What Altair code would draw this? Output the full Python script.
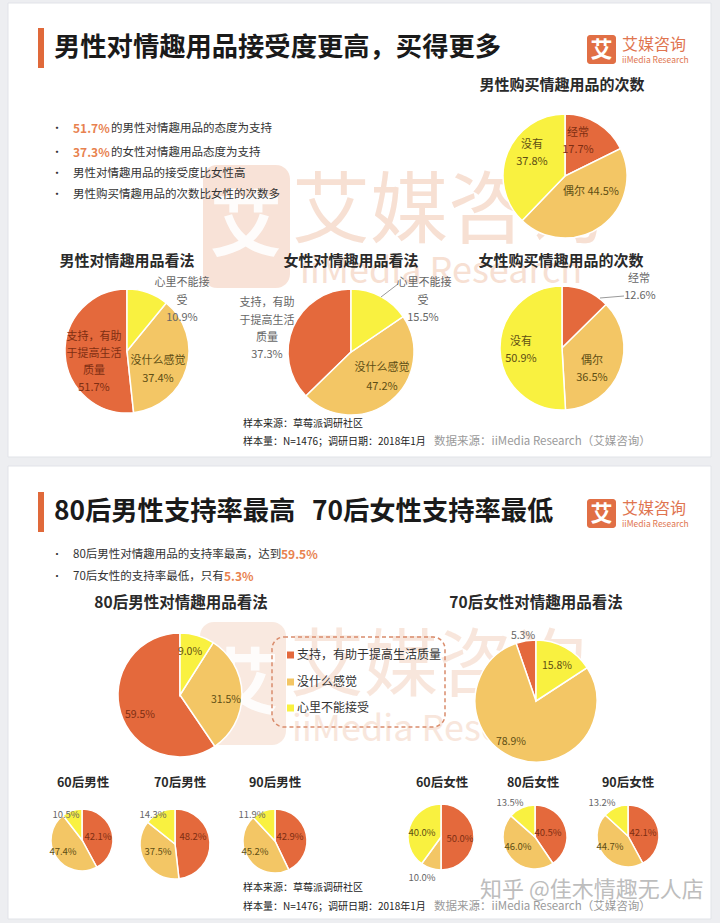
import altair as alt
import pandas as pd

FONT = "Noto Sans CJK SC"

# ---------------- data ----------------
ATT = ["支持，有助于提高生活质量", "没什么感觉", "心里不能接受"]
BUY = ["经常", "偶尔", "没有"]

male_attitude = [51.7, 37.4, 10.9]
female_attitude = [37.3, 47.2, 15.5]
male_buy = [17.7, 44.5, 37.8]
female_buy = [12.6, 36.5, 50.9]

male_80 = [59.5, 31.5, 9.0]
female_70 = [5.3, 78.9, 15.8]
male_60 = [42.1, 47.4, 10.5]
male_70 = [48.2, 37.5, 14.3]
male_90 = [42.9, 45.2, 11.9]
female_60 = [50.0, 10.0, 40.0]
female_80 = [40.5, 46.0, 13.5]
female_90 = [42.1, 44.7, 13.2]

ORANGE, GOLD, YELLOW = "#E4693C", "#F3C665", "#F9F140"
color_scale = alt.Scale(domain=ATT + BUY,
                        range=[ORANGE, GOLD, YELLOW, ORANGE, GOLD, YELLOW])

dummy = pd.DataFrame({"a": [0]})


def pct(v):
    return f"{v:.1f}%"


def T(s, x, y, size=11, color="#333333", bold=False, align="center",
      opacity=1.0, font=FONT):
    return alt.Chart(dummy).mark_text(
        text=s, fontSize=size, font=font,
        fontWeight="bold" if bold else "normal",
        color=color, align=align, baseline="middle", opacity=opacity
    ).encode(x=alt.value(x), y=alt.value(y))


def R(x1, x2, y1, y2, **kw):
    return alt.Chart(dummy).mark_rect(**kw).encode(
        x=alt.value(x1), x2=alt.value(x2), y=alt.value(y1), y2=alt.value(y2))


def L(x1, y1, x2, y2, color="#999999", w=1):
    return alt.Chart(dummy).mark_rule(color=color, strokeWidth=w).encode(
        x=alt.value(x1), y=alt.value(y1), x2=alt.value(x2), y2=alt.value(y2))


def pie(values, cats, cx, cy, r, reverse=False):
    df = pd.DataFrame({"cat": cats, "v": values, "i": list(range(len(values)))})
    return alt.Chart(df).mark_arc(radius=r, stroke="white", strokeWidth=1.5).encode(
        theta=alt.Theta("v:Q", stack="normalize"),
        color=alt.Color("cat:N", scale=color_scale, legend=None),
        order=alt.Order("i:Q", sort="descending" if reverse else "ascending"),
        x=alt.value(cx), y=alt.value(cy),
    )


layers = []

# ---------------- cards ----------------
layers += [
    R(8, 711, 3, 457, fill="white", stroke="#E1E3E8", strokeWidth=1),
    R(8, 711, 466, 919, fill="white", stroke="#E1E3E8", strokeWidth=1),
]

# ---------------- faint watermarks ----------------
WM = "#F4D3C1"
layers += [
    R(203, 290, 165, 288, fill=WM, cornerRadius=14, opacity=0.65),
    T("艾", 246, 228, size=72, color="white", bold=True, opacity=0.9),
    T("艾媒咨询", 292, 214, size=78, color=WM, align="left", opacity=0.7),
    T("iiMedia Research", 300, 272, size=36, color=WM, align="left", opacity=0.7),
    R(200, 286, 622, 745, fill=WM, cornerRadius=14, opacity=0.5),
    T("艾", 243, 686, size=72, color="white", bold=True, opacity=0.9),
    T("艾媒咨询", 290, 668, size=74, color=WM, align="left", opacity=0.55),
    T("iiMedia Research", 292, 730, size=36, color=WM, align="left", opacity=0.55),
]

# ---------------- headers ----------------
TITLE_C = "#1A1A1A"
layers += [
    R(38, 44, 28, 68, fill="#E0693A"),
    T("男性对情趣用品接受度更高，买得更多", 54, 48, size=26.3, color=TITLE_C, bold=True, align="left"),
    R(38, 44, 492, 532, fill="#E0693A"),
    T("80后男性支持率最高", 54, 512, size=26.3, color=TITLE_C, bold=True, align="left"),
    T("70后女性支持率最低", 312, 512, size=26.3, color=TITLE_C, bold=True, align="left"),
]
for ly in (49, 513):
    layers += [
        R(587, 616, ly - 14, ly + 15, fill="#E16F45", cornerRadius=3),
        T("艾", 601.5, ly + 1, size=22, color="white", bold=True),
        T("艾媒咨询", 622, ly - 4, size=16, color="#E07550", align="left"),
        T("iiMedia Research", 622, ly + 11, size=8.5, color="#E07550", align="left"),
    ]

# ---------------- bullets (top) ----------------
HL = "#E8824F"
BODY = "#333333"
layers += [
    T("•", 57, 129, size=11, color=BODY),
    T(pct(male_attitude[0]), 73, 129, size=12, color=HL, bold=True, align="left"),
    T("的男性对情趣用品的态度为支持", 111, 129, size=11.5, color=BODY, align="left"),
    T("•", 57, 153, size=11, color=BODY),
    T(pct(female_attitude[0]), 73, 153, size=12, color=HL, bold=True, align="left"),
    T("的女性对情趣用品态度为支持", 111, 153, size=11.5, color=BODY, align="left"),
    T("•", 57, 174, size=11, color=BODY),
    T("男性对情趣用品的接受度比女性高", 73, 174, size=11.5, color=BODY, align="left"),
    T("•", 57, 195, size=11, color=BODY),
    T("男性购买情趣用品的次数比女性的次数多", 73, 195, size=11.5, color=BODY, align="left"),
]

# ---------------- bullets (bottom) ----------------
layers += [
    T("•", 57, 555, size=10, color=BODY),
    T("80后男性对情趣用品的支持率最高，达到", 73, 555, size=11.5, color=BODY, align="left"),
    T(pct(male_80[0]), 281, 555, size=12, color=HL, bold=True, align="left"),
    T("•", 57, 577, size=10, color=BODY),
    T("70后女性的支持率最低，只有", 73, 577, size=11.5, color=BODY, align="left"),
    T(pct(female_70[0]), 224, 577, size=12, color=HL, bold=True, align="left"),
]

# ---------------- chart titles ----------------
ST = "#2A2A2A"
layers += [
    T("男性购买情趣用品的次数", 562, 85, size=15, color=ST, bold=True),
    T("男性对情趣用品看法", 127, 261, size=15, color=ST, bold=True),
    T("女性对情趣用品看法", 351, 261, size=15, color=ST, bold=True),
    T("女性购买情趣用品的次数", 561, 261, size=15, color=ST, bold=True),
    T("80后男性对情趣用品看法", 181, 603, size=15.5, color=ST, bold=True),
    T("70后女性对情趣用品看法", 536, 603, size=15.5, color=ST, bold=True),
    T("60后男性", 83, 783, size=12.5, color=ST, bold=True),
    T("70后男性", 180, 783, size=12.5, color=ST, bold=True),
    T("90后男性", 275, 783, size=12.5, color=ST, bold=True),
    T("60后女性", 442, 783, size=12.5, color=ST, bold=True),
    T("80后女性", 533, 783, size=12.5, color=ST, bold=True),
    T("90后女性", 628, 783, size=12.5, color=ST, bold=True),
]

# ---------------- pies ----------------
layers += [
    pie(male_buy, BUY, 565, 176, 62),
    pie(male_attitude, ATT, 127, 351, 62, reverse=True),
    pie(female_attitude, ATT, 351, 352, 63, reverse=True),
    pie(female_buy, BUY, 562, 348, 62),
    pie(male_80, ATT, 180, 695, 62, reverse=True),
    pie(female_70, ATT, 536, 701, 61, reverse=True),
    pie(male_60, ATT, 82, 840, 31),
    pie(male_70, ATT, 175, 844, 35),
    pie(male_90, ATT, 275, 841, 32),
    pie(female_60, ATT, 441, 837, 33),
    pie(female_80, ATT, 535, 837, 32),
    pie(female_90, ATT, 628, 836, 31),
]

# ---------------- pie labels ----------------
DK_O = "#7E2E12"   # on orange
DK_G = "#5E4E14"   # on gold / yellow
GRY = "#666666"
layers += [
    # male purchase
    T(BUY[0], 578, 133, size=11, color=DK_O),
    T(pct(male_buy[0]), 578, 150, size=11, color=DK_O),
    T(BUY[2], 532, 145, size=11, color=DK_G),
    T(pct(male_buy[2]), 532, 162, size=11, color=DK_G),
    T(f"{BUY[1]} {pct(male_buy[1])}", 591, 192, size=11, color=DK_G),
    # male attitude
    T("心里不能接", 182, 283, size=11, color=GRY),
    T("受", 182, 301, size=11, color=GRY),
    T(pct(male_attitude[2]), 182, 318, size=11, color=GRY),
    T("支持，有助", 94, 337, size=11, color=DK_O),
    T("于提高生活", 94, 354, size=11, color=DK_O),
    T("质量", 94, 371, size=11, color=DK_O),
    T(pct(male_attitude[0]), 94, 388, size=11, color=DK_O),
    T("没什么感觉", 158, 361, size=11, color=DK_G),
    T(pct(male_attitude[1]), 158, 379, size=11, color=DK_G),
    # female attitude
    L(381, 297, 398, 284, color="#9A9A9A"),
    T("心里不能接", 424, 283, size=11, color=GRY),
    T("受", 423, 301, size=11, color=GRY),
    T(pct(female_attitude[2]), 423, 318, size=11, color=GRY),
    T("支持，有助", 267, 303, size=11, color=GRY),
    T("于提高生活", 267, 321, size=11, color=GRY),
    T("质量", 267, 338, size=11, color=GRY),
    T(pct(female_attitude[0]), 267, 355, size=11, color=GRY),
    T("没什么感觉", 382, 368, size=11, color=DK_G),
    T(pct(female_attitude[1]), 382, 387, size=11, color=DK_G),
    # female purchase
    L(600, 298, 624, 296, color="#9A9A9A"),
    T(BUY[0], 639, 279, size=11, color=GRY),
    T(pct(female_buy[0]), 640, 296, size=11, color=GRY),
    T(BUY[2], 521, 342, size=11, color=DK_G),
    T(pct(female_buy[2]), 521, 359, size=11, color=DK_G),
    T(BUY[1], 592, 361, size=11, color=DK_G),
    T(pct(female_buy[1]), 592, 378, size=11, color=DK_G),
    # 80后男性 / 70后女性
    T(pct(male_80[2]), 190, 652, size=10.5, color=DK_G),
    T(pct(male_80[1]), 226, 700, size=10.5, color=DK_G),
    T(pct(male_80[0]), 140, 715, size=10.5, color=DK_O),
    T(pct(female_70[0]), 523, 636, size=10.5, color=GRY),
    T(pct(female_70[2]), 557, 666, size=10.5, color=DK_G),
    T(pct(female_70[1]), 511, 742, size=10.5, color=DK_G),
    # small male pies
    T(pct(male_60[2]), 66, 815, size=9.5, color=GRY),
    T(pct(male_60[0]), 98, 837, size=9.5, color=DK_O),
    T(pct(male_60[1]), 63, 852, size=9.5, color=DK_G),
    T(pct(male_70[2]), 153, 815, size=9.5, color=GRY),
    T(pct(male_70[0]), 193, 837, size=9.5, color=DK_O),
    T(pct(male_70[1]), 158, 852, size=9.5, color=DK_G),
    T(pct(male_90[2]), 252, 815, size=9.5, color=GRY),
    T(pct(male_90[0]), 290, 837, size=9.5, color=DK_O),
    T(pct(male_90[1]), 255, 852, size=9.5, color=DK_G),
    # small female pies
    T(pct(female_60[2]), 422, 833, size=9.5, color=DK_G),
    T(pct(female_60[0]), 460, 839, size=9.5, color=DK_O),
    T(pct(female_60[1]), 422, 878, size=9.5, color=GRY),
    T(pct(female_80[2]), 510, 803, size=9.5, color=GRY),
    T(pct(female_80[0]), 548, 833, size=9.5, color=DK_O),
    T(pct(female_80[1]), 518, 847, size=9.5, color=DK_G),
    T(pct(female_90[2]), 602, 803, size=9.5, color=GRY),
    T(pct(female_90[0]), 643, 833, size=9.5, color=DK_O),
    T(pct(female_90[1]), 610, 847, size=9.5, color=DK_G),
]

# ---------------- legend box ----------------
layers += [
    R(272, 445, 637, 727, fill="white", fillOpacity=0.0, stroke="#D98C6C",
      strokeDash=[4, 3], strokeWidth=1.5, cornerRadius=12),
]
for (cat, col), ly in zip(zip(ATT, [ORANGE, GOLD, YELLOW]), [655, 682, 708]):
    layers += [
        R(287, 294, ly - 3.5, ly + 3.5, fill=col),
        T(cat, 297, ly, size=12, color="#333333", align="left"),
    ]

# ---------------- sources ----------------
SRC = "#222222"
for y1, y2 in ((424, 442), (888, 907)):
    layers += [
        T("样本来源：草莓派调研社区", 243, y1, size=10, color=SRC, align="left"),
        T("样本量：N=1476；调研日期：2018年1月", 243, y2, size=10, color=SRC, align="left"),
        T("数据来源：iiMedia Research（艾媒咨询）", 434, y2, size=11.5, color="#9A9A9A", align="left"),
    ]

layers += [
    T("知乎 @佳木情趣无人店", 480, 890, size=22, color="#A8A8A8", align="left", opacity=0.75),
]

chart = alt.layer(*layers).properties(
    width=720, height=923, background="#EDEEF1", padding=0, autosize="none"
).configure_view(strokeWidth=0)

chart.save("out.html", embed_options={"renderer": "svg", "actions": False})
